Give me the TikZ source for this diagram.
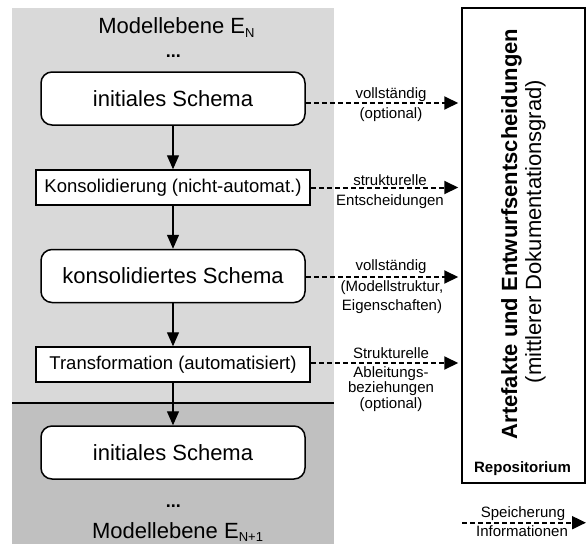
\documentclass[tikz,border=0pt]{standalone}
\usepackage{fontspec}
\setmainfont{Liberation Sans}
\usetikzlibrary{arrows.meta}
\definecolor{lightbg}{RGB}{217,217,217}
\definecolor{darkbg}{RGB}{192,192,192}
\begin{document}
\begin{tikzpicture}[x=1pt,y=-1pt,
  rbox/.style={draw,line width=1.5pt,rounded corners=11pt,fill=white,minimum width=264pt,minimum height=53pt,inner sep=0pt,font=\fontsize{22}{26}\selectfont},
  sbox/.style={draw,line width=1.5pt,fill=white,minimum width=274pt,minimum height=35pt,inner sep=0pt,font=\fontsize{18.5}{22}\selectfont},
  flow/.style={line width=1.3pt,-{Triangle[length=14pt,width=12pt]}},
  store/.style={line width=2pt,dash pattern=on 5pt off 3pt,-{Triangle[length=14pt,width=13pt]},shorten >=3pt},
  lbl/.style={anchor=base,inner sep=0pt,font=\fontsize{15}{15}\selectfont},
  big/.style={anchor=base,inner sep=0pt,font=\fontsize{22}{22}\selectfont},
  dots/.style={anchor=base,inner sep=0pt,font=\fontsize{18}{18}\selectfont\bfseries},
  rot/.style={anchor=base,rotate=90,inner sep=0pt,font=\fontsize{22}{22}\selectfont},
]
\useasboundingbox (0,0) rectangle (587,544);
\fill[lightbg] (12,8) rectangle (334,403);
\fill[darkbg] (12,403) rectangle (334,544);
\draw[line width=2pt] (12,403) -- (334,403);

\node[big] (top) at (176.5,33.5) {Modellebene E\raisebox{-3.5pt}{\fontsize{13}{13}\selectfont N}};
\node[dots] (d1) at (173.3,57.3) {...};
\node[rbox] (s1) at (173,98.5) {initiales Schema};
\node[sbox] (k) at (173,187.5) {Konsolidierung (nicht-automat.)};
\node[rbox] (s2) at (173,276) {konsolidiertes Schema};
\node[sbox] (t) at (173,364.5) {Transformation (automatisiert)};
\node[rbox] (s3) at (173,452.5) {initiales Schema};
\node[dots] (d2) at (173.3,507.3) {...};
\node[big] (bot) at (177.5,538.3) {Modellebene E\raisebox{-3.5pt}{\fontsize{13}{13}\selectfont N+1}};

\draw[flow] (s1) -- (k);
\draw[flow] (k) -- (s2);
\draw[flow] (s2) -- (t);
\draw[flow] (t) -- (s3);

\node[draw,line width=1.5pt,minimum width=123pt,minimum height=475pt,inner sep=0pt] (repo) at (523.5,245.5) {};
\node[rot,font=\fontsize{22}{22}\selectfont\bfseries] (rt1) at (517,234) {Artefakte und Entwurfsentscheidungen};
\node[rot] (rt2) at (541,231.5) {(mittlerer Dokumentationsgrad)};
\node[anchor=base,inner sep=0pt,font=\fontsize{15}{15}\selectfont\bfseries] (rep) at (522.5,472.5) {Repositorium};

\coordinate (a1) at ([yshift=-4.5pt]s1.east);
\coordinate (a2) at (k.east);
\coordinate (a3) at ([yshift=-1pt]s2.east);
\coordinate (a4) at ([yshift=1.5pt]t.east);
\draw[store] (a1) -- (a1 -| repo.west);
\draw[store] (a2) -- (a2 -| repo.west);
\draw[store] (a3) -- (a3 -| repo.west);
\draw[store] (a4) -- (a4 -| repo.west);

\node[lbl] (l1a) at (391,98.5) {vollständig};
\node[lbl] (l1b) at (391,118.5) {(optional)};
\node[lbl] (l2a) at (390,185) {strukturelle};
\node[lbl] (l2b) at (390,205) {Entscheidungen};
\node[lbl] (l3a) at (391,270) {vollständig};
\node[lbl] (l3b) at (392,291) {(Modellstruktur,};
\node[lbl] (l3c) at (392,310) {Eigenschaften)};
\node[lbl] (l4a) at (391,358) {Strukturelle};
\node[lbl] (l4b) at (391,377) {Ableitungs-};
\node[lbl] (l4c) at (391,392.3) {beziehungen};
\node[lbl] (l4d) at (391,408) {(optional)};

\coordinate (g1) at (462,522.7);
\coordinate (g2) at (589,522.7);
\draw[store] (g1) -- (g2);
\node[lbl] (lg1) at (523,517.5) {Speicherung};
\node[lbl] (lg2) at (522,536) {Informationen};
\end{tikzpicture}
\end{document}
